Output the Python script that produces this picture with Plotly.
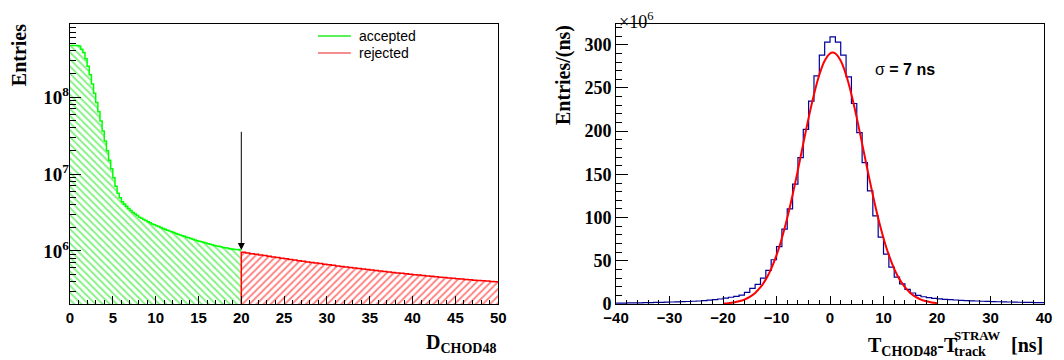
import math
import plotly.graph_objects as go

# ---------------- Left panel: D_CHOD48 distribution ----------------
ACC_BIN = 0.25          # accepted histogram bin width (0 .. 20)
REJ_BIN = 0.5           # rejected histogram bin width (20 .. 50)
D_CUT = 20.0
D_MAX = 50.0
ACCEPTED = [4.69e8, 4.69e8, 4.69e8, 4.69e8, 4.62e8, 4.17e8, 3.80e8, 3.16e8, 2.51e8, 1.95e8,
            1.48e8, 1.12e8, 8.51e7, 6.46e7, 4.90e7, 3.63e7, 2.69e7, 2.00e7, 1.51e7, 1.17e7,
            8.91e6, 6.92e6, 5.62e6, 4.90e6, 4.37e6, 4.07e6, 3.80e6, 3.55e6, 3.35e6, 3.16e6,
            3.02e6, 2.88e6, 2.75e6, 2.66e6, 2.57e6, 2.48e6, 2.40e6, 2.32e6, 2.24e6, 2.19e6,
            2.13e6, 2.07e6, 2.01e6, 1.96e6, 1.91e6, 1.86e6, 1.82e6, 1.77e6, 1.73e6, 1.69e6,
            1.65e6, 1.61e6, 1.58e6, 1.55e6, 1.51e6, 1.48e6, 1.45e6, 1.42e6, 1.39e6, 1.36e6,
            1.34e6, 1.32e6, 1.29e6, 1.27e6, 1.24e6, 1.22e6, 1.20e6, 1.18e6, 1.16e6, 1.15e6,
            1.13e6, 1.11e6, 1.10e6, 1.09e6, 1.07e6, 1.06e6, 1.05e6, 1.04e6, 1.04e6, 1.03e6]
REJECTED = [9.60e5, 9.41e5, 9.22e5, 9.04e5, 8.86e5, 8.69e5, 8.52e5, 8.35e5, 8.19e5, 8.04e5,
            7.89e5, 7.74e5, 7.60e5, 7.47e5, 7.33e5, 7.20e5, 7.08e5, 6.96e5, 6.84e5, 6.72e5,
            6.61e5, 6.50e5, 6.39e5, 6.29e5, 6.19e5, 6.09e5, 5.99e5, 5.90e5, 5.81e5, 5.73e5,
            5.64e5, 5.56e5, 5.48e5, 5.40e5, 5.32e5, 5.25e5, 5.18e5, 5.11e5, 5.04e5, 4.97e5,
            4.91e5, 4.85e5, 4.79e5, 4.73e5, 4.67e5, 4.61e5, 4.56e5, 4.50e5, 4.45e5, 4.40e5,
            4.36e5, 4.31e5, 4.26e5, 4.22e5, 4.17e5, 4.13e5, 4.09e5, 4.05e5, 4.01e5, 3.98e5]
ARROW_TOP = 3.7e7
LEFT_LOG_RANGE = [5.31, 8.95]
LEFT_MAJOR = [1e6, 1e7, 1e8]
LEFT_MAJOR_TEXT = ["10<sup>6</sup>", "10<sup>7</sup>", "10<sup>8</sup>"]
LEGEND_NAMES = ["accepted", "rejected"]

# ---------------- Right panel: timing difference (bin width 1 ns), in units of 1e6 ----------------
T_MIN, T_MAX, T_BIN = -40, 40, 1
T_COUNTS = [1.0, 1.1, 1.2, 1.3, 1.4, 1.5, 1.6, 1.8, 1.9, 2.1,
            2.3, 2.5, 2.7, 2.9, 3.2, 3.5, 3.9, 4.4, 5.0, 5.8,
            6.7, 7.8, 8.9, 10.2, 13.4, 18.0, 22.6, 30.0, 38.8, 51.2,
            66.5, 86.6, 110, 138.6, 169.3, 202, 234.8, 264, 287.9, 303,
            309, 303, 287.9, 262.9, 232, 198.2, 163.5, 130.8, 102, 77.3,
            57.7, 42.7, 31.2, 23.2, 17.0, 12.7, 9.9, 8.4, 7.3, 6.5,
            5.9, 5.4, 5.0, 4.6, 4.3, 4.0, 3.7, 3.5, 3.2, 3.0,
            2.8, 2.6, 2.5, 2.3, 2.2, 2.0, 1.9, 1.8, 1.7, 1.6]
FIT_T = [-20, -19, -18, -17, -16, -15, -14, -13, -12, -11, -10, -9, -8, -7, -6, -5, -4, -3, -2, -1, 0,
         0.5, 1, 2, 3, 4, 5, 6, 7, 8, 9, 10, 11, 12, 13, 14, 15, 16, 17, 18, 19, 20]
FIT_Y = [0.56, 1.0, 1.8, 3.1, 5.1, 8.2, 12.8, 19.4, 28.5, 40.7, 56.5, 76.1, 99.4, 126.1, 155.3,
         185.6, 215.4, 242.5, 265.2, 281.4, 289.9, 291.0, 289.9, 281.4, 265.2, 242.5, 215.4,
         185.6, 155.3, 126.1, 99.4, 76.1, 56.5, 40.7, 28.5, 19.4, 12.8, 8.2, 5.1, 3.1, 1.8, 1.0]
RIGHT_Y_MAX = 324

# ---------------- geometry (page pixels -> paper); page body has an 8px margin ----------------
BODY = 8
W, H = 1064 - BODY, 360 - BODY
ML, MR, MT, MB = 70 - BODY, 16, 24 - BODY, 56
PW, PH = W - ML - MR, H - MT - MB
X0, Y1 = ML + BODY, MT + BODY + PH      # page pixel of plot-area left and bottom


def px(x):
    return (x - X0) / PW


def py(y):
    return (Y1 - y) / PH


SERIF = "Liberation Serif"
SANS = "Liberation Sans"

acc_centers = [ACC_BIN * (i + 0.5) for i in range(len(ACCEPTED))]
rej_centers = [D_CUT + REJ_BIN * (i + 0.5) for i in range(len(REJECTED))]
acc_edges = [ACC_BIN * i for i in range(len(ACCEPTED) + 1)]
rej_edges = [D_CUT + REJ_BIN * i for i in range(len(REJECTED) + 1)]
t_edges = [T_MIN + T_BIN * i for i in range(len(T_COUNTS) + 1)]

GREEN = "#00e600"
RED = "#ff0000"

fig = go.Figure()

fig.add_trace(go.Bar(x=acc_centers, y=ACCEPTED, width=ACC_BIN, xaxis="x", yaxis="y",
                     marker=dict(color="rgba(0,0,0,0)", line=dict(width=0),
                                 pattern=dict(shape="\\", fgcolor=GREEN, bgcolor="rgba(0,0,0,0)",
                                              size=5, solidity=0.36)),
                     showlegend=False, hoverinfo="skip"))
fig.add_trace(go.Bar(x=rej_centers, y=REJECTED, width=REJ_BIN, xaxis="x", yaxis="y",
                     marker=dict(color="rgba(0,0,0,0)", line=dict(width=0),
                                 pattern=dict(shape="/", fgcolor=RED, bgcolor="rgba(0,0,0,0)",
                                              size=5, solidity=0.36)),
                     showlegend=False, hoverinfo="skip"))

fig.add_trace(go.Scatter(x=acc_edges, y=ACCEPTED + [ACCEPTED[-1]], mode="lines", line_shape="hv",
                         line=dict(color="#00ff00", width=1.5), showlegend=False, xaxis="x", yaxis="y"))
bottom = 10 ** LEFT_LOG_RANGE[0]
fig.add_trace(go.Scatter(x=[D_CUT] + rej_edges, y=[bottom] + REJECTED + [REJECTED[-1]], mode="lines",
                         line_shape="hv", line=dict(color=RED, width=1.5), showlegend=False,
                         xaxis="x", yaxis="y"))
# invisible anchor so the overlay log axis (major ticks) is drawn
fig.add_trace(go.Scatter(x=[acc_centers[0]], y=[ACCEPTED[0]], mode="markers", marker=dict(opacity=0),
                         showlegend=False, hoverinfo="skip", xaxis="x", yaxis="y3"))

fig.add_trace(go.Scatter(x=t_edges, y=T_COUNTS + [T_COUNTS[-1]], mode="lines", line_shape="hv",
                         line=dict(color="#000099", width=1.2), showlegend=False,
                         xaxis="x2", yaxis="y2"))
fig.add_trace(go.Scatter(x=FIT_T, y=FIT_Y, mode="lines", line_shape="spline",
                         line=dict(color=RED, width=2), showlegend=False,
                         xaxis="x2", yaxis="y2"))

minor_log = [m * 10 ** e for e in range(5, 9) for m in range(2, 10)]

axis_common = dict(showline=True, linecolor="black", linewidth=1, mirror=True, showgrid=False,
                   zeroline=False, ticks="inside", tickcolor="black", tickwidth=1)

fig.update_layout(
    width=W, height=H, margin=dict(l=ML, r=MR, t=MT, b=MB),
    plot_bgcolor="white", paper_bgcolor="white", barmode="overlay", bargap=0, showlegend=False,
    xaxis=dict(domain=[0, px(500)], range=[0, D_MAX], dtick=5, tick0=0, ticklen=8,
               minor=dict(dtick=1, ticklen=4, ticks="inside", tickcolor="black"),
               tickfont=dict(family=SANS, size=15, color="black", weight="bold"),
               anchor="y", **axis_common),
    yaxis=dict(type="log", range=LEFT_LOG_RANGE, tickmode="array", tickvals=minor_log,
               showticklabels=False, ticklen=6, anchor="x", **axis_common),
    yaxis3=dict(type="log", range=LEFT_LOG_RANGE, tickmode="array", tickvals=LEFT_MAJOR,
                ticktext=LEFT_MAJOR_TEXT, ticklen=11, overlaying="y", anchor="x", side="left",
                showline=False, showgrid=False, zeroline=False, ticks="inside", tickcolor="black",
                tickwidth=1, tickfont=dict(family=SERIF, size=19, color="black", weight="bold")),
    xaxis2=dict(domain=[px(618.3), 1], range=[T_MIN, T_MAX], dtick=10, tick0=0, ticklen=8,
                minor=dict(dtick=2, ticklen=4, ticks="inside", tickcolor="black"),
                tickfont=dict(family=SANS, size=15, color="black", weight="bold"),
                anchor="y2", **axis_common),
    yaxis2=dict(range=[0, RIGHT_Y_MAX], dtick=50, tick0=0, ticklen=12,
                minor=dict(dtick=10, ticklen=6, ticks="inside", tickcolor="black"),
                tickfont=dict(family=SERIF, size=18, color="black", weight="bold"),
                anchor="x2", **axis_common),
)

ann = []
shapes = []
title_font = dict(family=SERIF, size=20, color="black", weight="bold")


def text(t, x, y, font, xanchor="left", angle=0):
    ann.append(dict(text=t, x=px(x), y=py(y), xref="paper", yref="paper", showarrow=False,
                    font=font, xanchor=xanchor, yanchor="middle", textangle=angle))


text("Entries", 19, 55, title_font, "center", -90)
text("Entries/(ns)", 565, 75, title_font, "center", -90)
text("D<sub>CHOD48</sub>", 500, 343, title_font, "right")
text("×10<sup>6</sup>", 619, 20, dict(family=SERIF, size=18, color="black"))
text("σ <b>= 7 ns</b>", 876, 70, dict(family=SANS, size=16, color="black"))
text("T<sub>CHOD48</sub>-T", 869, 346, title_font)
text("STRAW", 956, 335, dict(family=SERIF, size=13, color="black", weight="bold"))
text("track", 956, 351, dict(family=SERIF, size=14, color="black", weight="bold"))
text("[ns]", 1049, 345, title_font, "right")

# legend (manual)
legend_colors = ["#22ee22", "#f06868"]
for i, (name, col) in enumerate(zip(LEGEND_NAMES, legend_colors)):
    yy = 36 + 17 * i
    shapes.append(dict(type="line", xref="paper", yref="paper", x0=px(319), x1=px(352),
                       y0=py(yy), y1=py(yy), line=dict(color=col, width=1.5)))
    text(name, 358, yy, dict(family=SANS, size=14, color="black"))

# cut arrow
ann.append(dict(x=D_CUT, y=math.log10(ACCEPTED[-1]), ax=D_CUT, ay=math.log10(ARROW_TOP),
                xref="x", yref="y", axref="x", ayref="y", text="", showarrow=True,
                arrowhead=2, arrowsize=1.4, arrowwidth=1, arrowcolor="black"))
fig.update_layout(annotations=ann, shapes=shapes)

fig.write_html("out.html")
